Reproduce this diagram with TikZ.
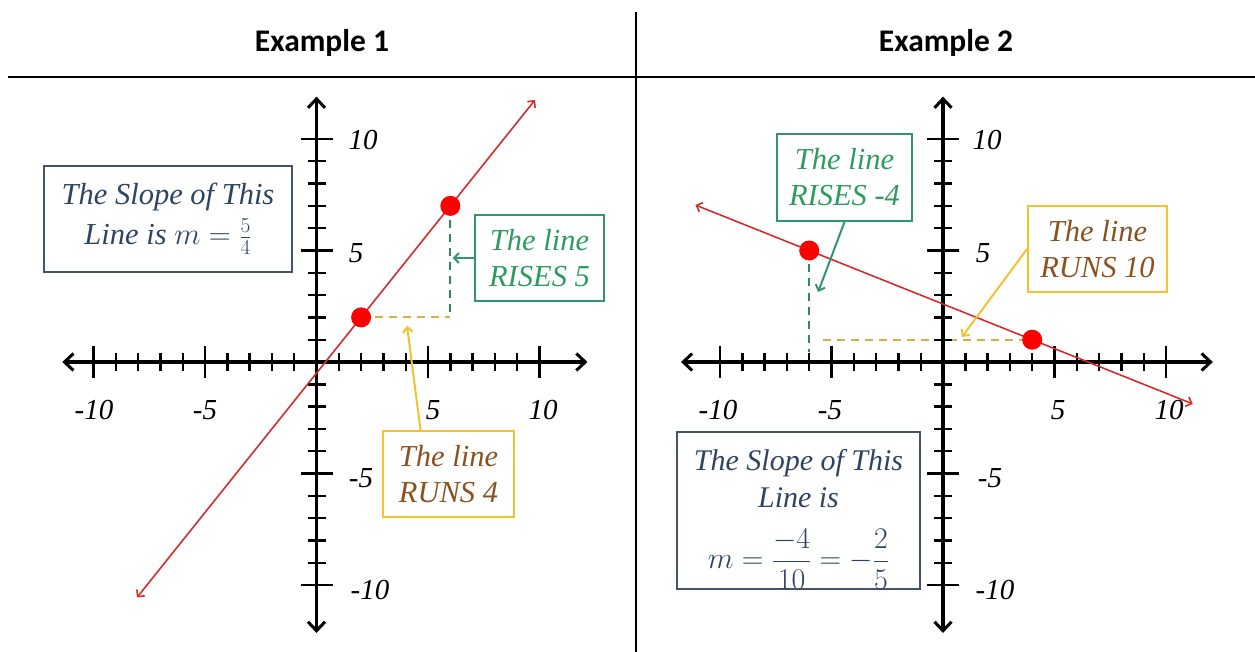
\RequirePackage{fix-cm}
\documentclass[tikz,border=0pt]{standalone}
\usepackage{fontspec}
\setmainfont{Liberation Serif}
\newfontfamily\hdr{Carlito}
\usetikzlibrary{arrows.meta}
\definecolor{slate}{HTML}{2E4462}
\definecolor{slateb}{HTML}{44546A}
\definecolor{gtext}{HTML}{2E9B5F}
\definecolor{gbord}{HTML}{33956A}
\definecolor{gold}{HTML}{F2C230}
\definecolor{brownt}{HTML}{8B5220}
\definecolor{dashy}{HTML}{D4B04C}
\definecolor{dashg}{HTML}{2F8A58}
\definecolor{redl}{HTML}{D42A2A}
\definecolor{dotr}{HTML}{FF0000}
\begin{document}
\begin{tikzpicture}[x=1pt,y=-1pt,
  axisline/.style={line width=3.4pt,{Straight Barb[length=9pt,width=17pt,line width=3pt]}-{Straight Barb[length=9pt,width=17pt,line width=3pt]}},
  tickmark/.style={line width=2.4pt},
  redline/.style={redl,line width=1.6pt,{Straight Barb[length=5pt,width=10pt,line width=1.6pt]}-{Straight Barb[length=5pt,width=10pt,line width=1.6pt]}},
  dotmark/.style={fill=dotr},
  ydash/.style={dashy,line width=2pt,dash pattern=on 8pt off 6pt},
  gdash/.style={dashg,line width=2pt,dash pattern=on 8pt off 6pt},
  lbl/.style={font=\fontsize{29}{30}\selectfont\itshape},
  boxtxt/.style={font=\fontsize{30.5}{36}\selectfont\itshape,align=center,inner sep=0pt,line width=2pt},
  slopebox/.style={boxtxt,draw=slateb,text=slate},
  gbox/.style={boxtxt,draw=gbord,text=gtext},
  ybox/.style={boxtxt,draw=gold,text=brownt},
  garrow/.style={gbord,line width=2pt,-{Straight Barb[length=5pt,width=10pt,line width=2pt]}},
  yarrow/.style={gold,line width=2pt,-{Straight Barb[length=5pt,width=10pt,line width=2pt]}},
  hdrtxt/.style={font=\hdr\bfseries\fontsize{31.5}{33}\selectfont}
]
\useasboundingbox (0,0) rectangle (1255,652);
% header and dividers
\node[hdrtxt] (h1) at (322,43) {Example 1};
\node[hdrtxt] (h2) at (946,43) {Example 2};
\draw[line width=2pt] (8,77) -- (1255,77);
\draw[line width=2pt] (636,12) -- (636,652);

% ---------- left graph ----------
\begin{scope}[shift={(316.5,362)},x=22.3pt,y=22.3pt]
  \draw[gdash] (6,7) -- (6,2);
  \draw[ydash] (2,2) -- (6,2);
  \draw[axisline] (-11.4,0) -- (12.15,0);
  \draw[axisline] (0,11.9) -- (0,-12.15);
  \foreach \i in {-9,-8,-7,-6,-4,-3,-2,-1,1,2,3,4,6,7,8,9}{
    \draw[tickmark] (\i,0) ++(0pt,9pt) -- ++(0pt,-18pt);
    \draw[tickmark] (0,\i) ++(-9pt,0pt) -- ++(18pt,0pt);
  }
  \foreach \i in {-10,-5,5,10}{
    \draw[tickmark] (\i,0) ++(0pt,16pt) -- ++(0pt,-32pt);
    \draw[tickmark] (0,\i) ++(-16pt,0pt) -- ++(32pt,0pt);
  }
  \draw[redline] (-8.05,-10.56) -- (9.8,11.75);
  \fill[dotmark] (2,2) circle (10pt);
  \fill[dotmark] (6,7) circle (10pt);
  \coordinate (t1g) at (6.1,4.62);
  \coordinate (t1y) at (4.06,1.62);
\end{scope}
\node[lbl] (l1a) at (363,140) {10};
\node[lbl] (l1b) at (356,253) {5};
\node[lbl] (l1c) at (94,410) {-10};
\node[lbl] (l1d) at (205,410) {-5};
\node[lbl] (l1e) at (433,410) {5};
\node[lbl] (l1f) at (543,410) {10};
\node[lbl] (l1g) at (361,478) {-5};
\node[lbl] (l1h) at (370,590) {-10};

\node[slopebox,minimum width=248pt,minimum height=106pt] (s1) at (168,219)
  {The Slope of This\\[4pt] Line is $m=\frac{5}{4}$};
\node[gbox,minimum width=129pt,minimum height=86pt] (g1) at (539.5,258)
  {The line\\ RISES 5};
\node[ybox,minimum width=131pt,minimum height=86pt] (y1) at (448.5,474)
  {The line\\ RUNS 4};
\draw[garrow] (g1.west) -- (g1.west -| t1g);
\draw[yarrow] ([xshift=-28pt]y1.north) -- (t1y);

% ---------- right graph ----------
\begin{scope}[shift={(943,362)},x=22.3pt,y=22.3pt]
  \draw[gdash] (-6,5) -- (-6,0.45);
  \draw[ydash] (-5.4,1) -- (4,1);
  \draw[axisline] (-11.75,0) -- (12.1,0);
  \draw[axisline] (0,11.9) -- (0,-12.15);
  \foreach \i in {-9,-8,-7,-6,-4,-3,-2,-1,1,2,3,4,6,7,8,9}{
    \draw[tickmark] (\i,0) ++(0pt,9pt) -- ++(0pt,-18pt);
    \draw[tickmark] (0,\i) ++(-9pt,0pt) -- ++(18pt,0pt);
  }
  \foreach \i in {-10,-5,5,10}{
    \draw[tickmark] (\i,0) ++(0pt,16pt) -- ++(0pt,-32pt);
    \draw[tickmark] (0,\i) ++(-16pt,0pt) -- ++(32pt,0pt);
  }
  \draw[redline] (-11.1,7.04) -- (11.2,-1.88);
  \fill[dotmark] (-6,5) circle (10pt);
  \fill[dotmark] (4,1) circle (10pt);
  \coordinate (t2g) at (-5.6,3.14);
  \coordinate (t2y) at (0.85,1.12);
\end{scope}
\node[lbl] (l2a) at (987,140) {10};
\node[lbl] (l2b) at (983,253) {5};
\node[lbl] (l2c) at (718,410) {-10};
\node[lbl] (l2d) at (830,410) {-5};
\node[lbl] (l2e) at (1058,410) {5};
\node[lbl] (l2f) at (1169,410) {10};
\node[lbl] (l2g) at (990,478) {-5};
\node[lbl] (l2h) at (995,590) {-10};

\node[gbox,minimum width=135pt,minimum height=87pt] (g2) at (844.5,177.5)
  {The line\\ RISES -4};
\node[ybox,minimum width=139pt,minimum height=86pt] (y2) at (1097.5,249)
  {The line\\ RUNS 10};
\node[slopebox,font=\fontsize{30}{37}\selectfont\itshape,minimum width=243pt,minimum height=157pt] (s2) at (798.5,510.5)
  {\rule{0pt}{39pt}The Slope of This\\ Line is\\[20pt] $m=\displaystyle\frac{-4}{10}=-\frac{2}{5}$};
\draw[garrow] (g2.south) -- (t2g);
\draw[yarrow] (y2.west) -- (t2y);
\end{tikzpicture}
\end{document}
